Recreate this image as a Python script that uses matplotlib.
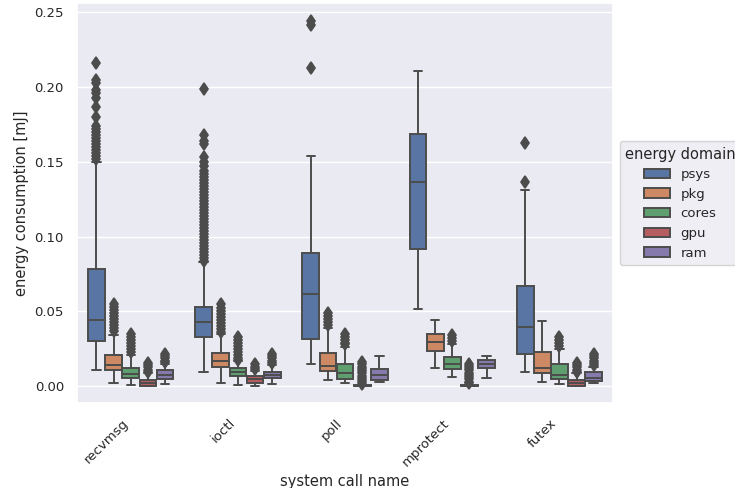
import matplotlib
matplotlib.use("Agg")
import matplotlib.pyplot as plt
import matplotlib.patches as mpatches
import seaborn as sns

# ---------------------------------------------------------
# data (energy per system call, mJ)
# ---------------------------------------------------------
syscalls = ["recvmsg", "ioctl", "poll", "mprotect", "futex"]
domains = ["psys", "pkg", "cores", "gpu", "ram"]

# five-number summaries, one value per syscall
psys_whislo = [0.0107, 0.0094, 0.0147, 0.0515, 0.0096]
psys_q1 = [0.0299, 0.0326, 0.0315, 0.0915, 0.0214]
psys_med = [0.0442, 0.0430, 0.0616, 0.1363, 0.0393]
psys_q3 = [0.0785, 0.0531, 0.0888, 0.1684, 0.0671]
psys_whishi = [0.1500, 0.0832, 0.1537, 0.2108, 0.1314]

pkg_whislo = [0.0020, 0.0018, 0.0040, 0.0118, 0.0025]
pkg_q1 = [0.0107, 0.0129, 0.0102, 0.0236, 0.0085]
pkg_med = [0.0142, 0.0169, 0.0136, 0.0292, 0.0118]
pkg_q3 = [0.0210, 0.0219, 0.0223, 0.0348, 0.0230]
pkg_whishi = [0.0345, 0.0350, 0.0390, 0.0440, 0.0435]

cores_whislo = [0.0007, 0.0007, 0.0022, 0.0058, 0.0013]
cores_q1 = [0.0057, 0.0067, 0.0047, 0.0111, 0.0047]
cores_med = [0.0083, 0.0092, 0.0085, 0.0145, 0.0074]
cores_q3 = [0.0118, 0.0120, 0.0147, 0.0192, 0.0145]
cores_whishi = [0.0210, 0.0165, 0.0260, 0.0280, 0.0250]

gpu_whislo = [0.0000, 0.0000, 0.0000, 0.0000, 0.0000]
gpu_q1 = [0.0000, 0.0018, 0.0000, 0.0000, 0.0000]
gpu_med = [0.0022, 0.0045, 0.0002, 0.0002, 0.0020]
gpu_q3 = [0.0040, 0.0067, 0.0008, 0.0008, 0.0040]
gpu_whishi = [0.0085, 0.0100, 0.0010, 0.0010, 0.0085]

ram_whislo = [0.0013, 0.0013, 0.0025, 0.0056, 0.0018]
ram_q1 = [0.0045, 0.0051, 0.0040, 0.0118, 0.0033]
ram_med = [0.0072, 0.0074, 0.0074, 0.0145, 0.0056]
ram_q3 = [0.0107, 0.0094, 0.0111, 0.0174, 0.0096]
ram_whishi = [0.0147, 0.0140, 0.0203, 0.0201, 0.0125]

# outliers, one list per syscall
psys_fliers = [
    [0.216, 0.205, 0.203, 0.198, 0.196, 0.193, 0.187, 0.180, 0.174, 0.172,
     0.170, 0.168, 0.166, 0.164, 0.162, 0.160, 0.158, 0.156, 0.154, 0.152],
    [0.199, 0.168, 0.164, 0.162, 0.153, 0.150, 0.147, 0.144, 0.142, 0.140,
     0.138, 0.136, 0.134, 0.132, 0.130, 0.128, 0.126, 0.124, 0.122, 0.120,
     0.118, 0.116, 0.114, 0.112, 0.110, 0.108, 0.106, 0.104, 0.102, 0.100,
     0.098, 0.096, 0.094, 0.092, 0.090, 0.088, 0.086, 0.084],
    [0.2445, 0.2416, 0.2126],
    [],
    [0.1624, 0.1363],
]
pkg_fliers = [
    [0.055, 0.053, 0.051, 0.049, 0.047, 0.045, 0.043, 0.041, 0.039, 0.037],
    [0.055, 0.052, 0.050, 0.048, 0.046, 0.044, 0.042, 0.040, 0.038, 0.036],
    [0.049, 0.047, 0.045, 0.043, 0.041],
    [],
    [],
]
cores_fliers = [
    [0.035, 0.033, 0.031, 0.029, 0.027, 0.025, 0.023],
    [0.033, 0.031, 0.029, 0.027, 0.025, 0.023, 0.021, 0.019, 0.0175],
    [0.035, 0.033, 0.031, 0.029, 0.028],
    [0.034, 0.032, 0.030],
    [0.033, 0.031, 0.029, 0.027],
]
gpu_fliers = [
    [0.0155, 0.014, 0.0125, 0.011, 0.0095],
    [0.015, 0.013, 0.0115],
    [0.016, 0.0145, 0.013, 0.0115, 0.010, 0.0085, 0.007, 0.0055, 0.004,
     0.0025, 0.0015],
    [0.015, 0.0135, 0.012, 0.0105, 0.009, 0.0075, 0.006, 0.0045, 0.003,
     0.002],
    [0.0155, 0.014, 0.0125, 0.011, 0.0095],
]
ram_fliers = [
    [0.0215, 0.020, 0.0185, 0.017, 0.0158],
    [0.0215, 0.020, 0.0185, 0.017, 0.0155],
    [],
    [],
    [0.0215, 0.020, 0.0185, 0.017, 0.0155, 0.014],
]

summary = {
    "psys": (psys_whislo, psys_q1, psys_med, psys_q3, psys_whishi, psys_fliers),
    "pkg": (pkg_whislo, pkg_q1, pkg_med, pkg_q3, pkg_whishi, pkg_fliers),
    "cores": (cores_whislo, cores_q1, cores_med, cores_q3, cores_whishi, cores_fliers),
    "gpu": (gpu_whislo, gpu_q1, gpu_med, gpu_q3, gpu_whishi, gpu_fliers),
    "ram": (ram_whislo, ram_q1, ram_med, ram_q3, ram_whishi, ram_fliers),
}

# ---------------------------------------------------------
# style
# ---------------------------------------------------------
sns.set_theme(style="darkgrid")
plt.rcParams["font.family"] = ["DejaVu Sans"]

colors = sns.color_palette("deep", len(domains), desat=0.75)
gray = "#4c4c4c"
lw = 1.4

fig = plt.figure(figsize=(7.35, 4.88), dpi=100)
ax = fig.add_axes([0.105, 0.174, 0.729, 0.82])

# seaborn-style dodge: 0.8 group width split into hue slots
group_width = 0.8
each = group_width / len(domains)
offsets = [-group_width / 2 + each / 2 + k * each for k in range(len(domains))]

for j, dom in enumerate(domains):
    wlo, q1, med, q3, whi, fl = summary[dom]
    stats = []
    for i, name in enumerate(syscalls):
        stats.append(dict(whislo=wlo[i], q1=q1[i], med=med[i], q3=q3[i],
                          whishi=whi[i], fliers=fl[i], label=name))
    positions = [i + offsets[j] for i in range(len(syscalls))]
    ax.bxp(stats, positions=positions, widths=each * 0.98, patch_artist=True,
           manage_ticks=False,
           boxprops=dict(facecolor=colors[j], edgecolor=gray, linewidth=lw),
           whiskerprops=dict(color=gray, linewidth=lw),
           capprops=dict(color=gray, linewidth=lw),
           medianprops=dict(color=gray, linewidth=lw),
           flierprops=dict(marker="d", markerfacecolor=gray, markeredgewidth=1.2,
                           markeredgecolor=gray, markersize=6, linestyle="none"))

ax.set_xlim(-0.5, len(syscalls) - 0.5)
ax.set_ylim(-0.0114, 0.2564)
ax.xaxis.grid(False)
ax.set_xticks(range(len(syscalls)))
ax.set_xticklabels(syscalls, rotation=45, ha="right", fontsize=9.5)
ax.set_yticks([0.0, 0.05, 0.10, 0.15, 0.20, 0.25])
ax.set_yticklabels(["0.00", "0.05", "0.10", "0.15", "0.20", "0.25"], fontsize=9.5)
ax.set_xlabel("system call name", fontsize=10.5)
ax.set_ylabel("energy consumption [mJ]", fontsize=10.5)

handles = [mpatches.Patch(facecolor=colors[j], edgecolor=gray, linewidth=lw,
                          label=dom) for j, dom in enumerate(domains)]
ax.legend(handles=handles, title="energy domain", loc="center left",
          bbox_to_anchor=(1.0, 0.5), fontsize=9.5, title_fontsize=10.5)

fig.savefig("out.png", dpi=100)
